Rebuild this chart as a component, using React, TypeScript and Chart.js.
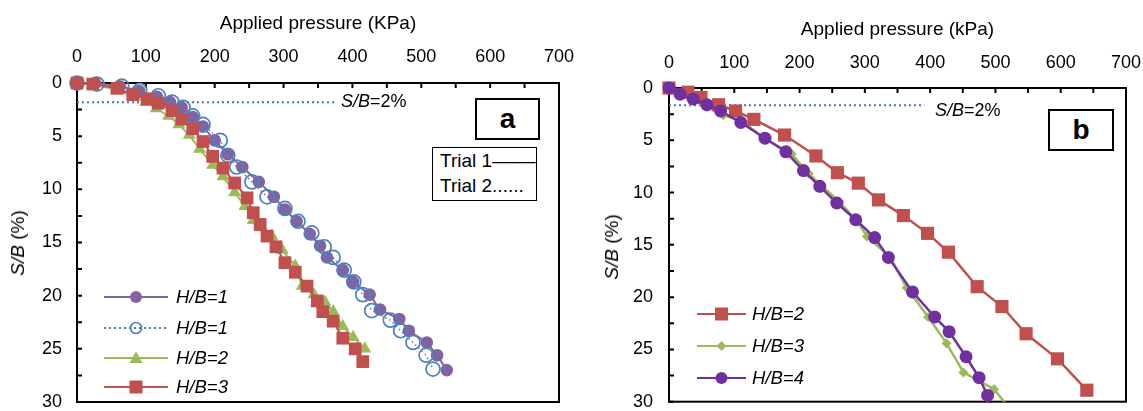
import React, { useEffect, useRef } from 'react';
import { Chart, registerables } from 'chart.js';

Chart.register(...registerables);

const FONT = "'Liberation Sans', Arial, Helvetica, sans-serif";
const W = 1143;
const H = 411;

// ---------- Panel a data (Applied pressure kPa, S/B %) ----------
const aH1Trial1Pressure = [0, 26, 62, 90, 116, 135, 152, 168, 183, 200, 219, 240, 264, 286, 302, 319, 338, 353, 363, 386, 401, 425, 440, 468, 482, 508, 523, 537];
const aH1Trial1SB = [0, 0, 0.3, 0.75, 1.3, 1.8, 2.3, 3.2, 4.1, 5.4, 6.7, 7.9, 9.3, 10.7, 11.9, 13.0, 14.2, 15.3, 16.4, 17.6, 18.7, 19.9, 21.3, 22.2, 23.3, 24.4, 25.6, 27.0];

const aH1Trial2Pressure = [0, 29, 65, 91, 118, 138, 154, 168, 183, 208, 219, 232, 254, 276, 302, 321, 341, 359, 372, 388, 402, 415, 428, 455, 470, 488, 507, 517];
const aH1Trial2SB = [0, 0.1, 0.3, 0.7, 1.2, 1.8, 2.3, 3.1, 3.9, 5.4, 6.8, 7.9, 9.3, 10.7, 11.8, 13.0, 14.1, 15.4, 16.4, 17.6, 18.7, 19.9, 21.4, 22.3, 23.3, 24.4, 25.6, 26.9];

const aH2Pressure = [0, 23, 58, 81, 100, 115, 133, 148, 163, 178, 197, 212, 229, 244, 256, 268, 283, 298, 317, 327, 344, 360, 372, 386, 401, 418];
const aH2SB = [0, 0.2, 0.6, 1.3, 1.8, 2.4, 3.1, 3.9, 4.9, 6.2, 7.7, 8.8, 10.3, 11.6, 12.9, 13.6, 14.4, 15.7, 17.2, 19.1, 19.9, 20.6, 21.5, 22.9, 23.9, 25.0];

const aH3Pressure = [0, 23, 58, 81, 102, 118, 138, 152, 168, 183, 197, 212, 229, 247, 256, 266, 276, 289, 302, 317, 334, 349, 357, 372, 386, 404, 415];
const aH3SB = [0, 0.1, 0.5, 1.1, 1.5, 1.9, 2.6, 3.4, 4.3, 5.5, 6.9, 8.0, 9.4, 10.8, 12.2, 13.3, 14.4, 15.4, 16.9, 17.8, 19.1, 20.5, 21.5, 22.4, 24.0, 25.0, 26.2];

const aRefPressure = [0, 375];
const aRefSB = [1.8, 1.8];

// ---------- Panel b data ----------
const bH2Pressure = [0, 29, 49, 76, 102, 130, 177, 225, 258, 290, 321, 359, 396, 428, 472, 510, 547, 595, 640];
const bH2SB = [0, 0.4, 0.9, 1.6, 2.2, 3.0, 4.5, 6.5, 8.1, 9.1, 10.7, 12.2, 13.9, 15.7, 19.0, 20.9, 23.5, 25.9, 28.9];

const bH3Pressure = [0, 18, 35, 58, 83, 112, 148, 188, 214, 261, 289, 303, 339, 364, 397, 425, 451, 498, 521];
const bH3SB = [0, 0.7, 1.15, 1.8, 2.6, 3.2, 4.9, 6.3, 8.2, 10.9, 12.8, 14.2, 16.2, 19.1, 21.9, 24.4, 27.2, 28.8, 30.6];

const bH4Pressure = [0, 17, 37, 58, 79, 110, 147, 179, 206, 231, 257, 286, 315, 336, 373, 407, 429, 455, 475, 488];
const bH4SB = [0, 0.6, 1.05, 1.6, 2.2, 3.3, 4.8, 6.1, 7.9, 9.4, 11.0, 12.6, 14.3, 16.2, 19.5, 21.9, 23.3, 25.7, 27.7, 29.4];

const bRefPressure = [0, 391];
const bRefSB = [1.65, 1.65];

// ---------- Axis settings ----------
const xMin = 0, xMax = 700, xStep = 50, xLabelEvery = 100;
const yMin = 0, yMax = 30, yStep = 2.5, yLabelEvery = 5;

const PURPLE_A = '#8064A2';
const BLUE = '#4F81BD';
const GREEN = '#9BBB59';
const RED = '#C0504D';
const PURPLE_B = '#7030A0';
const DOT = '#4472C4';

const zip = (p: number[], s: number[]) => p.map((x, i) => ({ x, y: s[i] }));

const framePlugin = {
  id: 'frame',
  beforeDatasetsDraw(chart: any) {
    const { ctx, chartArea, scales } = chart;
    const { left, top, right, bottom } = chartArea;
    ctx.save();
    ctx.strokeStyle = '#000';
    ctx.lineWidth = 2;
    ctx.strokeRect(left, top, right - left, bottom - top);
    ctx.beginPath();
    scales.x.ticks.forEach((t: any) => {
      const px = scales.x.getPixelForValue(t.value);
      ctx.moveTo(px, top);
      ctx.lineTo(px, top + 5);
    });
    scales.y.ticks.forEach((t: any) => {
      const py = scales.y.getPixelForValue(t.value);
      ctx.moveTo(left, py);
      ctx.lineTo(left + 5, py);
    });
    ctx.stroke();
    ctx.restore();
  },
};

type Area = { left: number; top: number; right: number; bottom: number };

function buildOptions(area: Area, xTitle: string, titlePadTop: number, xTickPad: number, yTickPad: number): any {
  const yAxisW = 60;
  return {
    responsive: false,
    animation: false,
    devicePixelRatio: 1,
    layout: {
      padding: { left: area.left - yAxisW, top: 0, right: W - area.right, bottom: H - area.bottom },
    },
    plugins: { legend: { display: false }, tooltip: { enabled: false } },
    scales: {
      x: {
        type: 'linear',
        position: 'top',
        min: xMin,
        max: xMax,
        grid: { display: false, drawTicks: false },
        border: { display: false },
        ticks: {
          stepSize: xStep,
          autoSkip: false,
          maxRotation: 0,
          padding: xTickPad,
          color: '#000',
          font: { family: FONT, size: 18 },
          callback: (v: number) => (v % xLabelEvery === 0 ? String(v) : ''),
        },
        title: {
          display: true,
          text: xTitle,
          color: '#000',
          font: { family: FONT, size: 19 },
          padding: { top: titlePadTop, bottom: 0 },
        },
        afterFit: (s: any) => {
          s.height = area.top;
          s.paddingLeft = 0;
          s.paddingRight = 0;
        },
      },
      y: {
        type: 'linear',
        reverse: true,
        min: yMin,
        max: yMax,
        grid: { display: false, drawTicks: false },
        border: { display: false },
        ticks: {
          stepSize: yStep,
          autoSkip: false,
          padding: yTickPad,
          color: '#000',
          font: { family: FONT, size: 18 },
          callback: (v: number) => (v % yLabelEvery === 0 ? String(v) : ''),
        },
        afterFit: (s: any) => {
          s.width = yAxisW;
          s.paddingTop = 0;
          s.paddingBottom = 0;
        },
      },
    },
  };
}

const areaA: Area = { left: 77, top: 83, right: 559, bottom: 404 };
const areaB: Area = { left: 669, top: 88, right: 1126, bottom: 402 };

function datasetsA(): any[] {
  return [
    {
      data: zip(aH3Pressure, aH3SB), borderColor: RED, backgroundColor: RED, borderWidth: 2,
      pointStyle: 'rect', pointRadius: 9, pointBorderWidth: 0, tension: 0, clip: false, order: 0,
    },
    {
      data: zip(aH1Trial2Pressure, aH1Trial2SB), borderColor: BLUE, borderWidth: 1.5, borderDash: [1.5, 3],
      pointStyle: 'circle', pointRadius: 7, pointBackgroundColor: 'rgba(0,0,0,0)', pointBorderColor: BLUE,
      pointBorderWidth: 1.7, tension: 0, clip: false, order: 1,
    },
    {
      data: zip(aH1Trial1Pressure, aH1Trial1SB), borderColor: PURPLE_A, backgroundColor: PURPLE_A, borderWidth: 2,
      pointStyle: 'circle', pointRadius: 6.3, pointBorderWidth: 0, tension: 0, clip: false, order: 2,
    },
    {
      data: zip(aH2Pressure, aH2SB), borderColor: GREEN, backgroundColor: GREEN, borderWidth: 2,
      pointStyle: 'triangle', pointRadius: 7.5, pointBorderWidth: 0, tension: 0, clip: false, order: 3,
    },
    {
      data: zip(aRefPressure, aRefSB), borderColor: DOT, borderWidth: 2, borderDash: [2, 3],
      pointRadius: 0, tension: 0, clip: false, order: 4,
    },
  ];
}

function datasetsB(): any[] {
  return [
    {
      data: zip(bH4Pressure, bH4SB), borderColor: PURPLE_B, backgroundColor: PURPLE_B, borderWidth: 2.5,
      pointStyle: 'circle', pointRadius: 6.5, pointBorderWidth: 0, tension: 0, clip: false, order: 0,
    },
    {
      data: zip(bH2Pressure, bH2SB), borderColor: RED, backgroundColor: RED, borderWidth: 2.5,
      pointStyle: 'rect', pointRadius: 9.3, pointBorderWidth: 0, tension: 0, clip: false, order: 1,
    },
    {
      data: zip(bH3Pressure, bH3SB), borderColor: GREEN, backgroundColor: GREEN, borderWidth: 2.5,
      pointStyle: 'rectRot', pointRadius: 5, pointBorderWidth: 0, tension: 0,
      clip: { left: 20, top: 20, right: 20, bottom: 0 }, order: 2,
    },
    {
      data: zip(bRefPressure, bRefSB), borderColor: DOT, borderWidth: 2, borderDash: [2, 3],
      pointRadius: 0, tension: 0, clip: false, order: 3,
    },
  ];
}

function Marker({ kind, color, cx }: { kind: string; color: string; cx: number }) {
  const cy = 10;
  if (kind === 'circle') return <circle cx={cx} cy={cy} r={6} fill={color} />;
  if (kind === 'open') return <circle cx={cx} cy={cy} r={5.5} fill="none" stroke={color} strokeWidth={1.7} />;
  if (kind === 'triangle') return <polygon points={`${cx - 6.5},${cy + 5} ${cx + 6.5},${cy + 5} ${cx},${cy - 6.5}`} fill={color} />;
  if (kind === 'square') return <rect x={cx - 6.5} y={cy - 6.5} width={13} height={13} fill={color} />;
  if (kind === 'diamond') return <polygon points={`${cx},${cy - 5} ${cx + 5},${cy} ${cx},${cy + 5} ${cx - 5},${cy}`} fill={color} />;
  return null;
}

function LegendRow(props: { x1: number; x2: number; y: number; textX: number; color: string; dash?: string; kind: string; label: string }) {
  const { x1, x2, y, textX, color, dash, kind, label } = props;
  const w = x2 - x1;
  return (
    <>
      <svg style={{ position: 'absolute', left: x1, top: y - 10 }} width={w} height={20}>
        <line x1={0} y1={10} x2={w} y2={10} stroke={color} strokeWidth={2} strokeDasharray={dash} />
        <Marker kind={kind} color={color} cx={w / 2} />
      </svg>
      <div style={{ position: 'absolute', left: textX, top: y, transform: 'translateY(-50%)', fontStyle: 'italic', fontSize: 18.5, lineHeight: '20px', whiteSpace: 'nowrap' }}>
        {label}
      </div>
    </>
  );
}

export default function App() {
  const refA = useRef<HTMLCanvasElement>(null);
  const refB = useRef<HTMLCanvasElement>(null);

  useEffect(() => {
    const cA = new Chart(refA.current as HTMLCanvasElement, {
      type: 'line',
      data: { datasets: datasetsA() },
      options: buildOptions(areaA, 'Applied pressure (KPa)', 12, 15, 15),
      plugins: [framePlugin],
    } as any);
    const cB = new Chart(refB.current as HTMLCanvasElement, {
      type: 'line',
      data: { datasets: datasetsB() },
      options: buildOptions(areaB, 'Applied pressure (kPa)', 18, 14, 16),
      plugins: [framePlugin],
    } as any);
    return () => {
      cA.destroy();
      cB.destroy();
    };
  }, []);

  const canvasStyle: React.CSSProperties = { position: 'absolute', left: 0, top: 0, width: W, height: H };

  return (
    <div style={{ position: 'absolute', left: 0, top: 0, width: W, height: H, background: '#fff', fontFamily: FONT, color: '#000', overflow: 'hidden' }}>
      <canvas ref={refA} width={W} height={H} style={canvasStyle} />
      <canvas ref={refB} width={W} height={H} style={canvasStyle} />

      {/* y-axis titles */}
      <div style={{ position: 'absolute', left: 18, top: 243, transform: 'translate(-50%,-50%) rotate(-90deg)', fontSize: 19, whiteSpace: 'nowrap' }}>
        <i>S/B</i> (%)
      </div>
      <div style={{ position: 'absolute', left: 612, top: 247, transform: 'translate(-50%,-50%) rotate(-90deg)', fontSize: 19, whiteSpace: 'nowrap' }}>
        <i>S/B</i> (%)
      </div>

      {/* S/B = 2% labels */}
      <div style={{ position: 'absolute', left: 341, top: 101, transform: 'translateY(-50%)', fontSize: 18, whiteSpace: 'nowrap' }}>
        <i>S/B</i>=2%
      </div>
      <div style={{ position: 'absolute', left: 935, top: 110, transform: 'translateY(-50%)', fontSize: 18, whiteSpace: 'nowrap' }}>
        <i>S/B</i>=2%
      </div>

      {/* panel labels */}
      <div style={{ position: 'absolute', left: 475, top: 98, width: 65, height: 42, boxSizing: 'border-box', border: '2px solid #000', display: 'flex', alignItems: 'center', justifyContent: 'center', fontWeight: 'bold', fontSize: 28, background: '#fff' }}>
        a
      </div>
      <div style={{ position: 'absolute', left: 1048, top: 109, width: 66, height: 42, boxSizing: 'border-box', border: '2px solid #000', display: 'flex', alignItems: 'center', justifyContent: 'center', fontWeight: 'bold', fontSize: 28, background: '#fff' }}>
        b
      </div>

      {/* Trial box */}
      <div style={{ position: 'absolute', left: 432, top: 147, width: 105, height: 54, boxSizing: 'border-box', border: '1.5px solid #000', paddingLeft: 7, fontSize: 19, lineHeight: '25px', whiteSpace: 'nowrap', background: '#fff' }}>
        <div>
          Trial 1<span style={{ display: 'inline-block', transform: 'scaleX(1.15)', transformOrigin: 'left center' }}>——</span>
        </div>
        <div>Trial 2......</div>
      </div>

      {/* Legend a */}
      <LegendRow x1={104} x2={168} y={297} textX={176} color={PURPLE_A} kind="circle" label="H/B=1" />
      <LegendRow x1={104} x2={168} y={328} textX={176} color={BLUE} dash="2 3" kind="open" label="H/B=1" />
      <LegendRow x1={104} x2={168} y={358} textX={176} color={GREEN} kind="triangle" label="H/B=2" />
      <LegendRow x1={104} x2={168} y={387} textX={176} color={RED} kind="square" label="H/B=3" />

      {/* Legend b */}
      <LegendRow x1={697} x2={746} y={314} textX={752} color={RED} kind="square" label="H/B=2" />
      <LegendRow x1={697} x2={746} y={346} textX={752} color={GREEN} kind="diamond" label="H/B=3" />
      <LegendRow x1={697} x2={746} y={378} textX={752} color={PURPLE_B} kind="circle" label="H/B=4" />
    </div>
  );
}
